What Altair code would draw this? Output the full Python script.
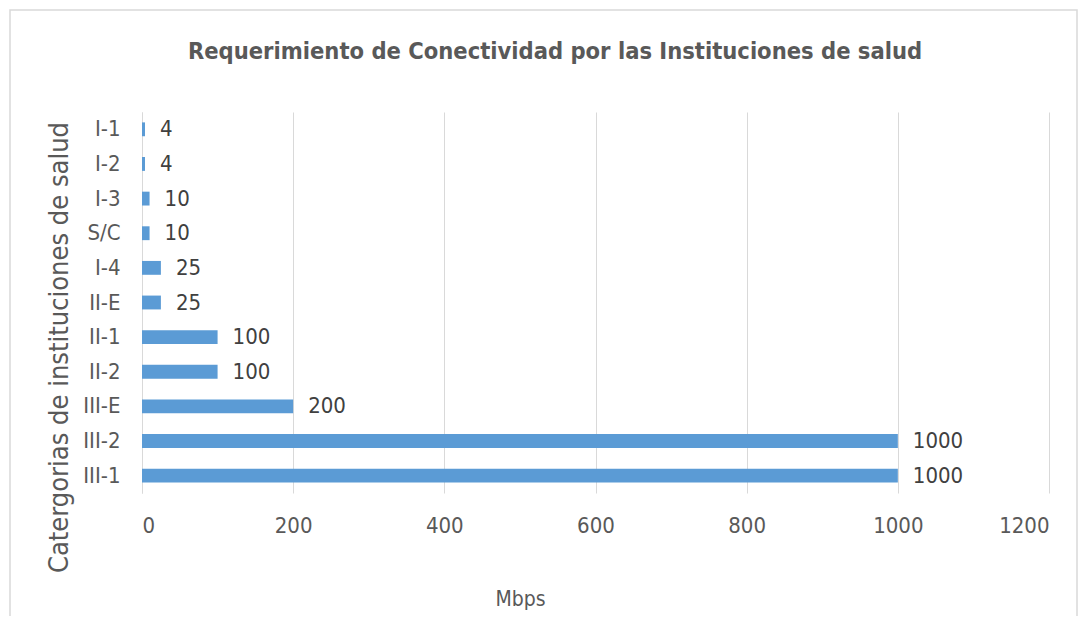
import altair as alt
import pandas as pd

categories = ["I-1", "I-2", "I-3", "S/C", "I-4", "II-E", "II-1", "II-2", "III-E", "III-2", "III-1"]
values = [4, 4, 10, 10, 25, 25, 100, 100, 200, 1000, 1000]
x_ticks = [0, 200, 400, 600, 800, 1000, 1200]
title_text = "Requerimiento de Conectividad por las Instituciones de salud"

df = pd.DataFrame({"cat": categories, "val": values})

FONT = "Liberation Sans Narrow, DejaVu Sans Condensed, Liberation Sans, sans-serif"
GREY = "#595959"

W, H = 907, 381
PL, PT = 134, 104

base = alt.Chart(df)

bars = base.mark_bar(color="#5b9bd5").encode(
    x=alt.X("val:Q", scale=alt.Scale(domain=[0, 1200], nice=False),
            axis=alt.Axis(values=x_ticks, format="d", title="Mbps", grid=True, gridColor="#d9d9d9",
                          domain=False, ticks=False, labelPadding=22,
                          labelFontSize=22, labelColor=GREY, labelFont=FONT,
                          titleFont=FONT, titleFontSize=21, titleFontWeight="normal",
                          titleColor=GREY, titleX=378, titleY=106, titleAnchor="middle",
                          titleAlign="center", titleBaseline="middle")),
    y=alt.Y("cat:N", sort=categories, scale=alt.Scale(paddingInner=0.6, paddingOuter=0.3),
            axis=alt.Axis(title="Catergorias de instituciones de salud", domain=True,
                          domainColor="#d9d9d9", ticks=False, labelPadding=22,
                          labelFontSize=22, labelColor=GREY, labelFont=FONT,
                          titleFont=FONT, titleFontSize=27, titleFontWeight="normal",
                          titleColor=GREY, titleAngle=-90, titleX=-83, titleY=235,
                          titleAlign="center", titleBaseline="middle")),
)

labels = base.mark_text(align="left", baseline="middle", dx=15, font=FONT,
                        fontSize=22, color="#404040").encode(
    x="val:Q", y=alt.Y("cat:N", sort=categories), text="val:Q")

frame = alt.Chart(pd.DataFrame({"a": [0]})).mark_rect(
    fill=None, stroke="#d9d9d9", strokeWidth=1.5).encode(
    x=alt.value(-PL + 2), x2=alt.value(W + 28), y=alt.value(-PT + 2), y2=alt.value(H + 160))

title = alt.Chart(pd.DataFrame({"t": [title_text]})).mark_text(
    font=FONT, fontSize=23.5, fontWeight="bold", color=GREY, align="center",
    baseline="middle").encode(text="t:N", x=alt.value(413), y=alt.value(-60))

chart = alt.layer(frame, title, bars, labels).properties(
    width=W, height=H,
    autosize="none",
    background="white",
    padding={"left": PL, "top": PT, "right": 30, "bottom": 123},
).configure_view(stroke=None)

chart.save("out.html", embed_options={"renderer": "svg", "actions": False})
